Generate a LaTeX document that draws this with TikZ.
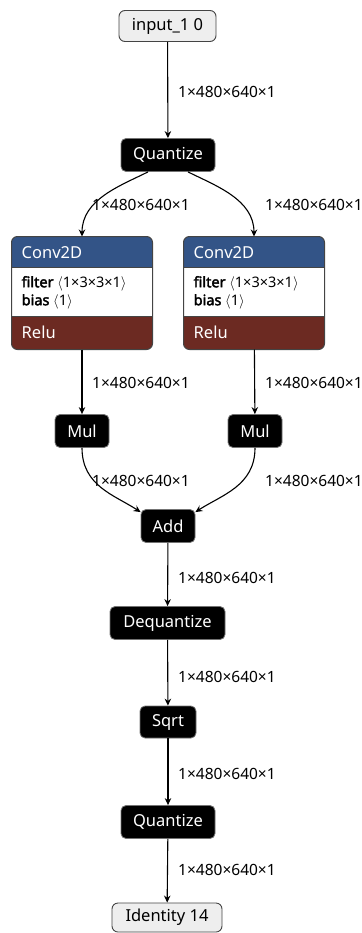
\documentclass[tikz,border=0pt]{standalone}
\usepackage{fontspec}
\setmainfont{Noto Sans}[BoldFont={Noto Sans}, BoldFeatures={FakeBold=2.5}]
\usetikzlibrary{arrows.meta,calc}
\definecolor{convblue}{HTML}{335487}
\definecolor{relured}{HTML}{6C2A22}
\definecolor{iofill}{HTML}{EEEEEE}
\definecolor{edgegray}{HTML}{444444}
\newcommand{\lab}{$\langle$}
\newcommand{\rab}{$\rangle$}
\begin{document}
\begin{tikzpicture}[x=1pt,y=-1pt,
  op/.style={rectangle, rounded corners=5pt, fill=black, draw=black!55, line width=0.8pt,
    text=white, font=\fontsize{16.5}{19}\selectfont, inner sep=0pt, minimum height=33pt},
  io/.style={rectangle, rounded corners=6pt, fill=iofill, draw=edgegray, line width=0.9pt,
    font=\fontsize{16.5}{19}\selectfont, inner sep=0pt, minimum height=31pt},
  convbox/.style={rectangle, rounded corners=6pt, draw=edgegray, line width=1pt,
    minimum width=140pt, minimum height=112pt, inner sep=0pt},
  headtext/.style={anchor=west, inner sep=0pt, text=white, font=\fontsize{16.5}{19}\selectfont},
  attr/.style={anchor=west, inner sep=0pt, font=\fontsize{14.5}{17}\selectfont},
  dims/.style={anchor=west, inner sep=0pt, font=\fontsize{15.5}{18}\selectfont},
  flow/.style={-{Stealth[length=7pt,width=6.5pt]}, line width=1.1pt}]
\useasboundingbox (0,0) rectangle (361,933);

% operator nodes
\node[io, minimum width=97pt] (in) at (167.5,26) {input\_1 0};
\node[op, minimum width=94pt] (q1) at (168,155) {Quantize};
\node[op, minimum width=54pt] (m1) at (82,431) {Mul};
\node[op, minimum width=54pt] (m2) at (255,431) {Mul};
\node[op, minimum width=54pt] (add) at (168,526) {Add};
\node[op, minimum width=115pt] (deq) at (167.5,623) {Dequantize};
\node[op, minimum width=56pt, minimum height=32pt] (sq) at (168,722) {Sqrt};
\node[op, minimum width=94pt] (q2) at (168,822) {Quantize};
\node[io, minimum width=110pt, minimum height=29pt] (out) at (167,917.5) {Identity 14};

% convolution blocks with fused activation
\foreach \c/\x in {c1/82, c2/254} {
  \node[convbox] (\c) at (\x,293) {};
  \begin{scope}
    \clip[rounded corners=6pt] (\c.north west) rectangle (\c.south east);
    \fill[convblue] (\c.north west) rectangle ($(\c.north east)+(0,31)$);
    \fill[white] ($(\c.north west)+(0,31)$) rectangle ($(\c.north east)+(0,80)$);
    \fill[relured] ($(\c.north west)+(0,80)$) rectangle (\c.south east);
  \end{scope}
  \draw[edgegray, line width=1pt] ($(\c.north west)+(0,31)$) -- ($(\c.north east)+(0,31)$);
  \draw[edgegray, line width=1pt] ($(\c.north west)+(0,80)$) -- ($(\c.north east)+(0,80)$);
  \draw[edgegray, line width=1pt, rounded corners=6pt] (\c.north west) rectangle (\c.south east);
  \node[headtext] (\c-t) at ($(\c.north west)+(10,16)$) {Conv2D};
  \node[attr] (\c-f) at ($(\c.north west)+(10,47)$) {\textbf{filter} \lab1×3×3×1\rab};
  \node[attr] (\c-b) at ($(\c.north west)+(10,65)$) {\textbf{bias} \lab1\rab};
  \node[headtext] (\c-r) at ($(\c.north west)+(10,96)$) {Relu};
}

% connectors
\draw[flow] (in) -- (q1);
\draw[flow] ($(q1.south)+(-20,0)$) .. controls ($(q1.south)+(-48,14)$) and ($(c1.north)+(0,-37)$) .. (c1.north);
\draw[flow] ($(q1.south)+(20,0)$) .. controls ($(q1.south)+(48,14)$) and ($(c2.north)+(0,-37)$) .. (c2.north);
\draw[flow] (c1) -- (m1);
\draw[flow] (c2) -- (m2);
\draw[flow] (m1.south) .. controls ($(m1.south)+(0,38)$) and ($(add.north west)+(-26,-14)$) .. ($(add.north west)+(0,3)$);
\draw[flow] (m2.south) .. controls ($(m2.south)+(0,38)$) and ($(add.north east)+(26,-14)$) .. ($(add.north east)+(0,3)$);
\draw[flow] (add) -- (deq);
\draw[flow] (deq) -- (sq);
\draw[flow] (sq) -- (q2);
\draw[flow] (q2) -- (out);

% tensor shapes on the connectors
\node[dims] (d1) at (178,92) {1×480×640×1};
\node[dims] (d2) at (92,205) {1×480×640×1};
\node[dims] (d3) at (265,205) {1×480×640×1};
\node[dims] (d4) at (92,383) {1×480×640×1};
\node[dims] (d5) at (265,383) {1×480×640×1};
\node[dims] (d6) at (92,481) {1×480×640×1};
\node[dims] (d7) at (265,481) {1×480×640×1};
\node[dims] (d8) at (178,578) {1×480×640×1};
\node[dims] (d9) at (178,677) {1×480×640×1};
\node[dims] (d10) at (178,774) {1×480×640×1};
\node[dims] (d11) at (178,870) {1×480×640×1};
\end{tikzpicture}
\end{document}
